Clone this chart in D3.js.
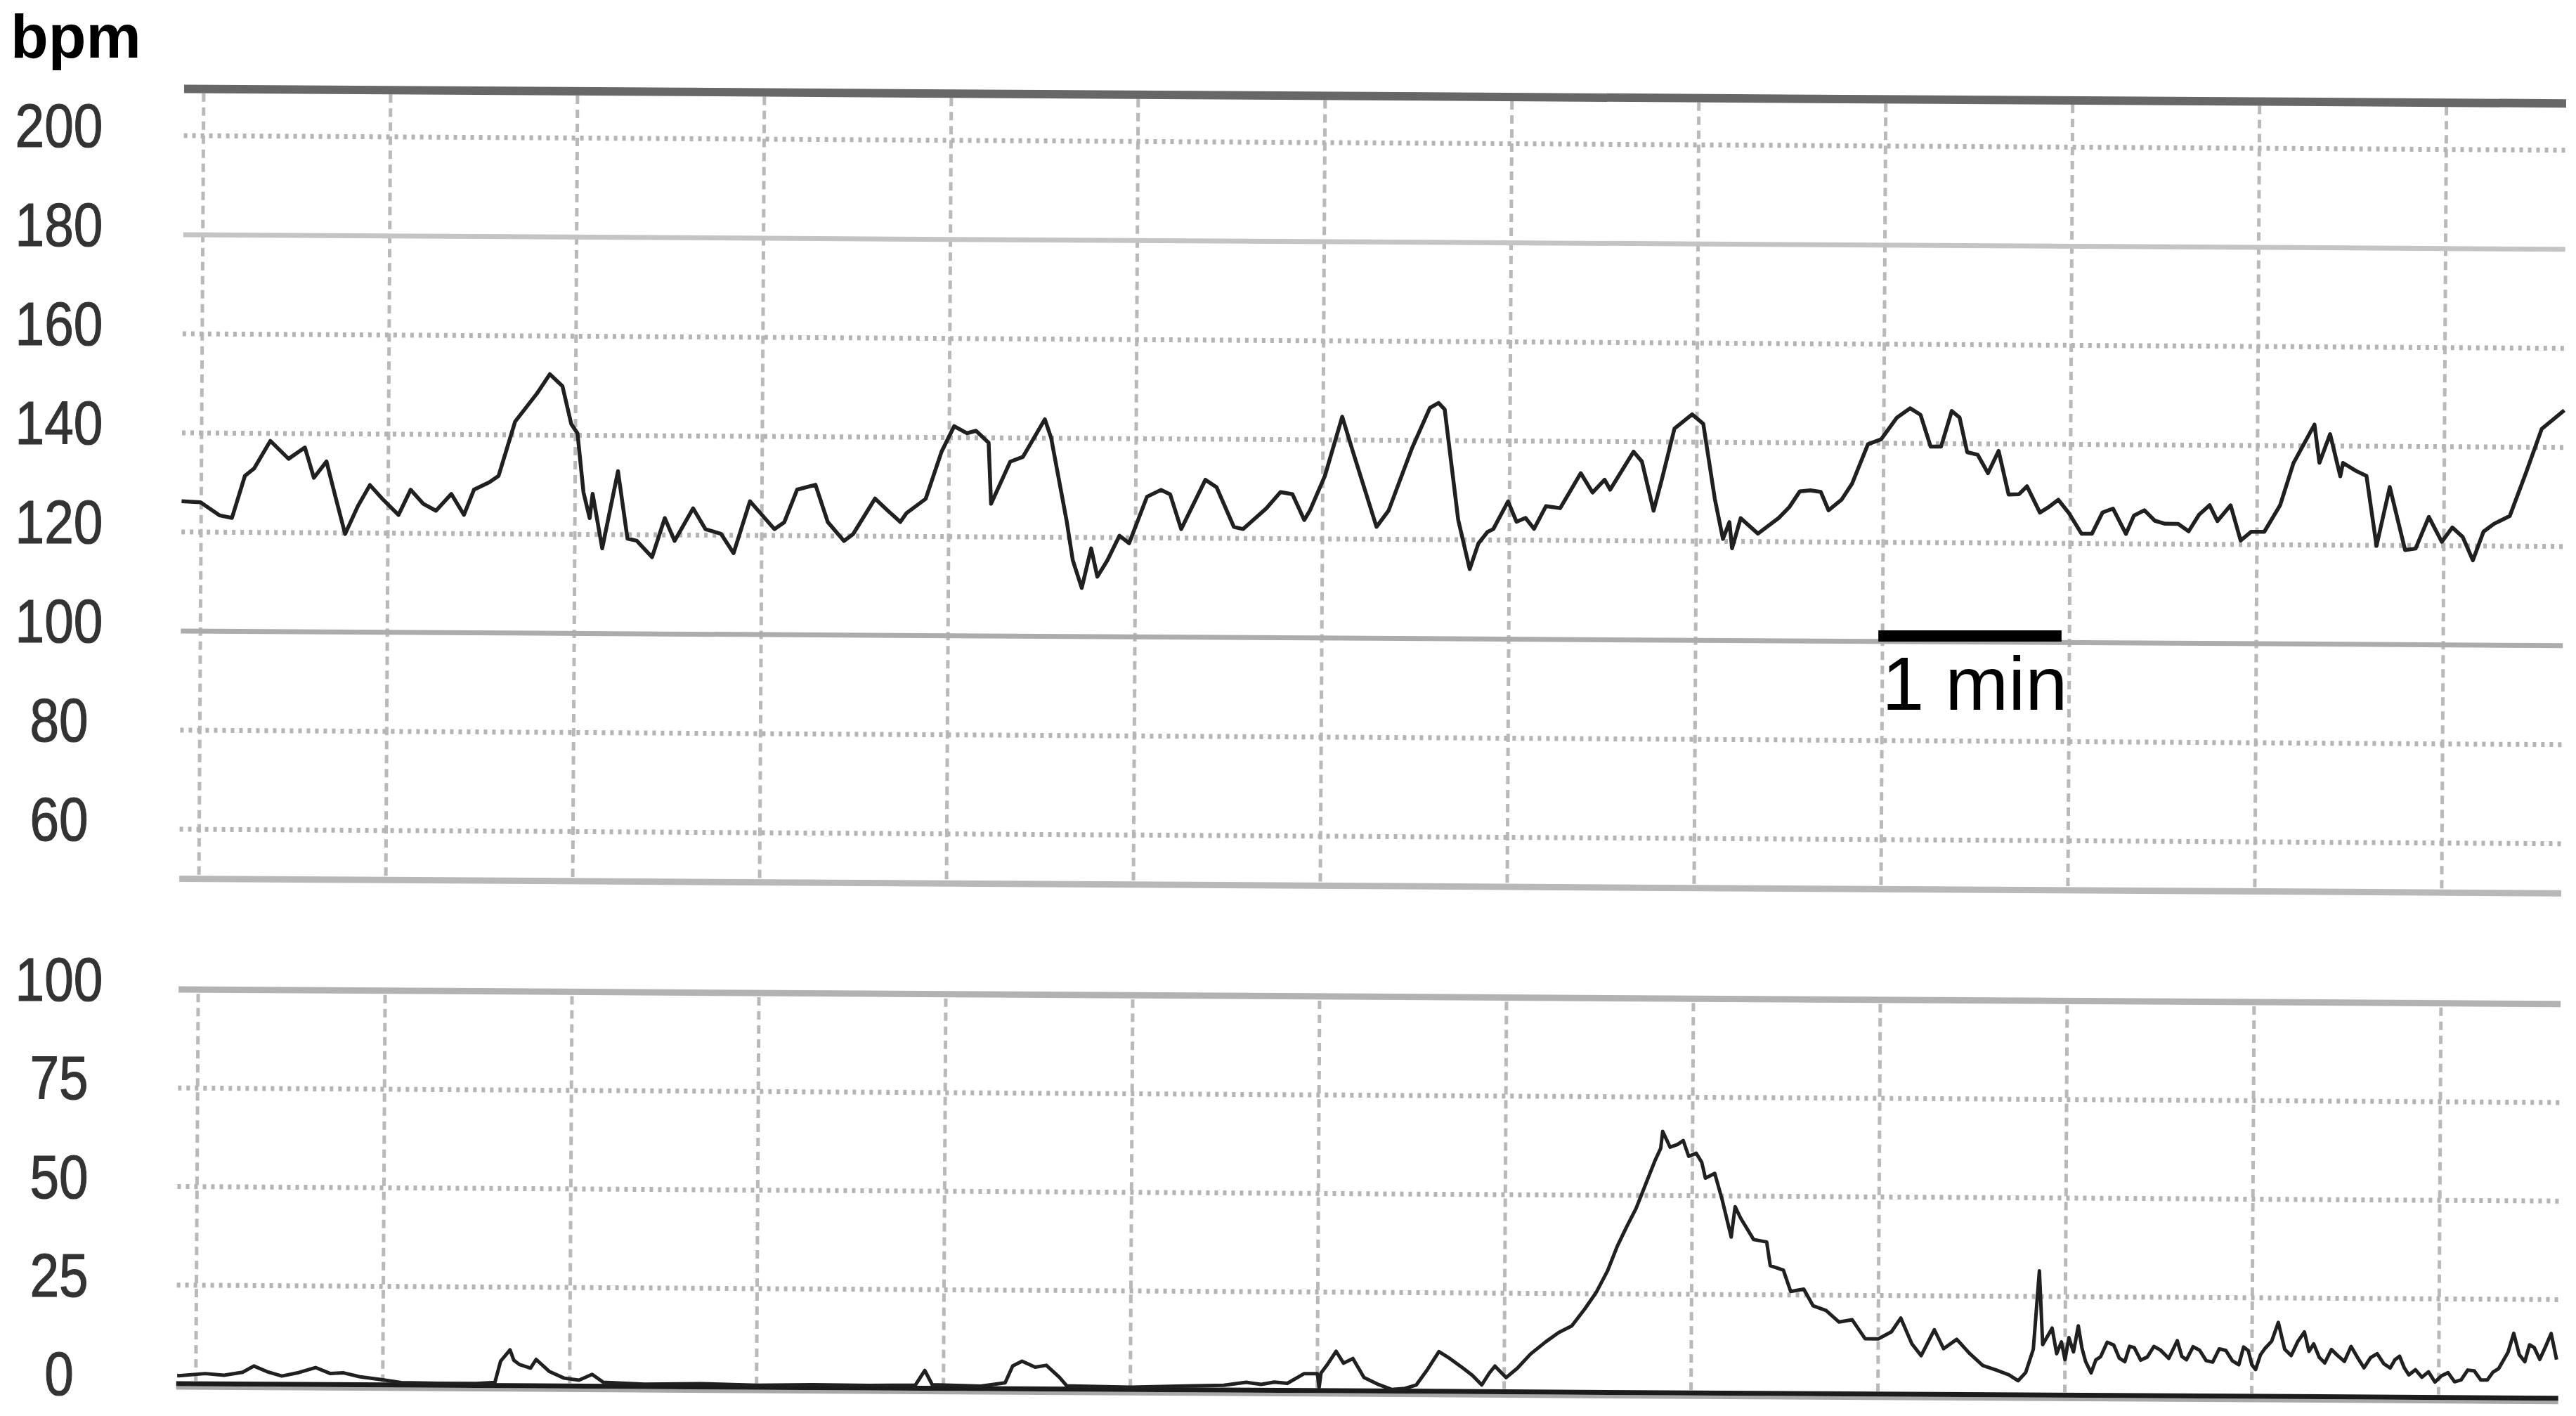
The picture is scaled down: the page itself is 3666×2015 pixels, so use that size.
<!DOCTYPE html>
<html><head><meta charset="utf-8">
<script src="https://cdnjs.cloudflare.com/ajax/libs/d3/7.8.5/d3.min.js"></script>
<style>html,body{margin:0;padding:0;background:#fff;} svg{display:block;}</style>
</head><body>
<svg id="chart" width="3666" height="2015"></svg>
<script>
// ---- Fetal heart rate trace (time in minutes, bpm) ----
const fhrTime = [-0.105,-0.004,0.098,0.165,0.233,0.282,0.368,0.466,0.553,0.602,0.669,0.718,0.771,0.838,0.902,0.970,1.056,1.120,1.188,1.256,1.338,1.406,1.459,1.541,1.590,1.677,1.793,1.861,1.929,1.977,2.011,2.045,2.079,2.094,2.147,2.229,2.282,2.331,2.414,2.481,2.534,2.632,2.699,2.782,2.850,2.936,3.068,3.120,3.188,3.286,3.353,3.440,3.489,3.605,3.673,3.741,3.774,3.876,3.959,4.026,4.094,4.143,4.211,4.226,4.327,4.395,4.511,4.545,4.632,4.665,4.714,4.763,4.797,4.850,4.914,
4.966,5.060,5.135,5.184,5.244,5.372,5.432,5.526,5.575,5.699,5.774,5.838,5.902,5.932,6.011,6.102,6.165,6.289,6.353,6.477,6.571,6.617,6.650,6.726,6.789,6.835,6.883,6.914,6.992,7.038,7.086,7.132,7.195,7.271,7.380,7.444,7.508,7.538,7.662,7.707,7.771,7.816,7.880,7.974,8.034,8.098,8.143,8.177,8.192,8.237,
8.330,8.441,8.497,8.553,8.609,8.665,8.707,8.777,8.832,8.916,8.986,9.070,9.140,9.196,9.251,9.307,9.363,9.405,9.447,9.503,9.559,9.615,9.670,9.726,9.768,9.838,9.880,9.936,9.992,10.061,10.117,10.173,10.229,10.299,10.341,10.397,10.453,10.508,10.578,10.634,10.690,10.746,10.788,10.858,10.913,10.969,11.039,11.123,11.193,11.304,11.332,11.388,11.444,11.458,11.528,11.584,11.640,11.709,11.793,11.849,11.919,11.989,12.045,12.101,12.156,12.212,12.268,12.352,12.436,12.520,12.640];
const fhrBpm = [126.2,126.0,123.4,122.9,131.4,132.9,138.5,134.9,137.2,131.1,134.4,127.3,119.8,125.4,129.7,126.9,123.7,128.8,126.0,124.6,128.0,123.8,128.9,130.4,131.7,142.7,148.4,152.3,149.9,142.3,140.4,128.5,123.3,128.2,117.2,132.8,119.2,118.8,115.5,123.4,118.8,125.4,121.2,120.3,116.4,126.9,121.3,122.7,129.3,130.3,122.8,119.0,120.4,127.6,125.2,122.9,124.7,127.6,137.1,142.3,140.9,141.4,139.0,126.7,135.2,136.2,143.8,140.1,123.1,115.4,109.8,117.8,112.1,115.4,120.4,
118.9,128.3,129.7,128.8,121.8,131.8,130.3,122.3,121.9,126.1,129.4,129.0,123.8,125.7,132.7,144.7,137.1,122.5,125.8,138.5,146.6,147.6,146.3,124.0,114.1,119.3,121.6,122.2,127.8,123.7,124.5,122.3,126.9,126.5,133.6,129.7,132.3,130.3,138.0,136.0,126.1,132.7,142.7,145.6,143.7,128.6,120.5,123.9,118.6,124.7,
121.6,124.8,127.0,130.2,130.4,130.1,126.4,128.6,131.8,139.8,140.8,145.2,147.1,145.8,139.4,139.4,146.6,145.3,138.3,137.8,134.1,138.6,129.8,129.9,131.5,126.2,127.2,128.8,126.2,122.0,122.0,126.3,127.1,122.0,125.7,126.8,124.7,124.1,124.1,122.6,126.0,127.9,124.7,127.9,120.8,122.6,122.6,128.0,136.5,144.3,136.6,142.4,133.9,136.6,135.0,134.0,119.9,131.8,119.1,119.4,125.8,120.8,123.7,121.8,117.1,122.9,124.5,126.1,134.7,143.7,147.5];

// ---- Uterine activity trace (time in minutes, units 0-100) ----
const uaTime = [-0.10,-0.07,0.05,0.15,0.25,0.31,0.38,0.46,0.55,0.64,0.72,0.79,0.88,1.00,1.10,1.30,1.50,1.60,1.63,1.68,1.70,1.73,1.79,1.82,1.89,1.97,2.05,2.12,2.18,2.40,2.70,3.00,3.30,3.60,3.85,3.90,3.94,4.20,4.33,4.37,4.42,4.49,4.55,4.62,4.66,5.00,5.30,5.50,5.62,
5.70,5.77,5.84,5.93,6.00,6.01,6.02,6.05,6.10,6.14,6.19,6.25,6.33,6.40,6.47,6.53,6.59,6.65,6.71,6.78,6.83,6.88,6.92,6.95,7.01,7.07,7.14,7.22,7.29,7.36,7.43,7.49,7.55,7.60,7.65,7.70,7.75,7.80,7.83,7.84,7.88,7.92,7.95,7.98,8.02,8.05,8.07,8.12,8.16,8.21,8.23,8.26,8.33,8.40,8.42,8.49,8.53,8.60,8.65,8.72,8.79,8.86,8.93,9.00,9.07,9.12,9.18,9.23,9.30,9.35,9.42,9.49,9.56,9.63,9.70,9.75,9.79,9.83,9.86,9.88,9.93,
9.955,9.98,10.00,10.02,10.045,10.07,10.09,10.11,10.14,10.165,10.19,10.225,10.26,10.29,10.32,10.345,10.37,10.405,10.44,10.475,10.51,10.555,10.60,10.625,10.65,10.685,10.72,10.755,10.79,10.825,10.86,10.895,10.93,10.955,10.98,11.00,11.02,11.045,11.07,11.105,11.14,11.175,11.21,11.245,11.28,11.305,11.33,11.36,11.39,11.425,11.46,11.495,11.53,11.565,11.60,11.635,11.67,11.705,11.74,11.765,11.79,11.815,11.84,11.875,11.91,11.945,11.98,12.015,12.05,12.085,12.12,12.155,12.19,12.225,12.26,12.29,12.32,12.345,12.37,12.40,12.43,12.46,12.485,12.51,12.54,12.57,12.60,12.63];
const uaValue = [2.0,2.1,2.6,2.2,3.0,4.6,3.2,2.1,3.0,4.3,2.8,3.0,2.0,1.3,0.6,0.5,0.5,0.8,6.2,9.1,6.5,5.4,4.5,6.7,3.7,2.0,1.5,3.0,1.0,0.6,0.8,0.5,0.7,0.6,0.8,4.5,0.9,0.6,1.5,5.8,7.0,5.5,6.0,3.0,0.8,0.6,1.0,1.2,2.0,
1.5,2.1,1.8,4.3,4.3,0.8,4.5,6.4,10.0,7.0,8.2,3.4,1.6,0.4,0.7,1.6,5.6,10.1,8.3,5.9,4.1,1.7,4.7,6.5,3.6,6.0,9.6,12.7,15.1,16.8,21.2,25.4,30.9,37.0,42.0,46.7,52.8,58.9,62.0,66.3,62.3,63.0,64.0,60.0,60.8,58.5,54.5,55.7,49.1,39.6,47.3,44.4,39.0,38.4,32.4,31.3,25.9,26.5,22.3,21.1,18.2,18.8,14.0,14.0,15.8,19.3,12.8,9.8,16.4,11.6,14.0,10.4,7.4,6.3,5.1,3.6,5.7,11.6,31.5,12.8,17.0,
10.5,13.5,9.0,14.6,11.0,17.6,12.0,8.6,5.7,9.0,9.8,13.5,12.8,9.5,8.6,12.5,12.2,9.0,9.8,12.5,11.6,9.5,14.0,10.0,9.2,12.5,11.6,9.0,8.6,12.0,11.6,9.0,8.0,12.5,11.6,8.0,6.8,10.5,12.2,14.0,18.8,12.0,10.4,14.0,16.4,11.5,13.4,10.0,8.6,12.0,10.4,9.0,12.8,10.0,7.4,10.0,11.0,8.5,7.4,9.5,10.4,7.5,5.7,7.0,5.1,6.5,3.9,5.5,6.3,4.0,4.5,7.0,6.8,4.5,4.5,6.5,7.4,9.5,11.6,16.4,11.0,9.2,13.5,12.8,9.8,13.0,16.4,9.8];

// ---- Axes / grid values ----
const fhrTicks = [200,180,160,140,120,100,80,60];
const uaTicks = [100,75,50,25,0];
const fhrSolidLines = [180,100];
const fhrDottedLines = [200,160,140,120,80,60];
const uaDottedLines = [75,50,25];
const minuteLines = [0,1,2,3,4,5,6,7,8,9,10,11,12];
const scaleBarMinutes = [8.96, 9.94];
const scaleBarLabel = "1 min";
const fhrUnit = "bpm";

const svg = d3.select("#chart");
const x = d3.scaleLinear().domain([-0.105, 12.64]).range([262, 3652]);
const yF = d3.scaleLinear().domain([50, 210]).range([1250.5, 122.5]);
const yU = d3.scaleLinear().domain([0, 100]).range([1969, 1408]);
const x0 = x.range()[0], x1 = x.range()[1];

// paper (slightly skewed scan)
const paper = svg.append("g").attr("transform", "rotate(0.35 262 128)");

// vertical minute lines
const vDash = "12 8";
paper.append("g").selectAll("line.vf").data(minuteLines).join("line")
  .attr("x1", d => x(d)).attr("x2", d => x(d))
  .attr("y1", yF(210) + 10).attr("y2", yF(50) - 5)
  .attr("stroke", "#b9b9b9").attr("stroke-width", 5).attr("stroke-dasharray", vDash);
paper.append("g").selectAll("line.vu").data(minuteLines).join("line")
  .attr("x1", d => x(d)).attr("x2", d => x(d))
  .attr("y1", yU(100) + 6).attr("y2", yU(0) - 4)
  .attr("stroke", "#b9b9b9").attr("stroke-width", 5).attr("stroke-dasharray", vDash);

// horizontal dotted lines
const hDash = "5 7";
paper.append("g").selectAll("line").data(fhrDottedLines).join("line")
  .attr("x1", x0).attr("x2", x1).attr("y1", d => yF(d)).attr("y2", d => yF(d))
  .attr("stroke", "#b4b4b4").attr("stroke-width", 7).attr("stroke-dasharray", hDash);
paper.append("g").selectAll("line").data(uaDottedLines).join("line")
  .attr("x1", x0).attr("x2", x1).attr("y1", d => yU(d)).attr("y2", d => yU(d))
  .attr("stroke", "#b4b4b4").attr("stroke-width", 7).attr("stroke-dasharray", hDash);

// solid lines
paper.append("g").selectAll("line").data(fhrSolidLines).join("line")
  .attr("x1", x0).attr("x2", x1).attr("y1", d => yF(d)).attr("y2", d => yF(d))
  .attr("stroke", d => d === 100 ? "#acacac" : "#c4c4c4").attr("stroke-width", 7);
// borders
paper.append("line").attr("x1", x0).attr("x2", x1).attr("y1", yF(210) + 4).attr("y2", yF(210) + 4)
  .attr("stroke", "#676767").attr("stroke-width", 12);
paper.append("line").attr("x1", x0).attr("x2", x1).attr("y1", yF(50)).attr("y2", yF(50))
  .attr("stroke", "#b8b8b8").attr("stroke-width", 9);
paper.append("line").attr("x1", x0).attr("x2", x1).attr("y1", yU(100)).attr("y2", yU(100))
  .attr("stroke", "#b2b2b2").attr("stroke-width", 9);
paper.append("line").attr("x1", x0).attr("x2", x1).attr("y1", yU(0) + 6).attr("y2", yU(0) + 6)
  .attr("stroke", "#a8a8a8").attr("stroke-width", 5);
paper.append("line").attr("x1", x0).attr("x2", x1).attr("y1", yU(0)).attr("y2", yU(0))
  .attr("stroke", "#1c1c1c").attr("stroke-width", 7);

// traces
const fhrLine = d3.line().x(d => x(d[0])).y(d => yF(d[1]));
paper.append("path").datum(d3.zip(fhrTime, fhrBpm)).attr("d", fhrLine)
  .attr("fill", "none").attr("stroke", "#202020").attr("stroke-width", 5.5).attr("stroke-linejoin", "round");
const uaLine = d3.line().x(d => x(d[0])).y(d => yU(d[1]));
paper.append("path").datum(d3.zip(uaTime, uaValue)).attr("d", uaLine)
  .attr("fill", "none").attr("stroke", "#202020").attr("stroke-width", 5).attr("stroke-linejoin", "round");

// tick labels
function labels(ticks, scale) {
  svg.append("g").selectAll("text").data(ticks).join("text")
    .attr("transform", d => `translate(84,${scale(d) + 16}) scale(0.86,1)`)
    .attr("text-anchor", "middle")
    .attr("font-family", "Liberation Sans, Arial, sans-serif")
    .attr("font-size", 87).attr("fill", "#333")
    .attr("stroke", "#333").attr("stroke-width", 1.2)
    .text(d => d);
}
labels(fhrTicks, yF);
labels(uaTicks, yU);

// unit label
svg.append("text").attr("x", 15).attr("y", 82)
  .attr("font-family", "Liberation Sans, Arial, sans-serif").attr("font-weight", "bold")
  .attr("font-size", 88).attr("fill", "#000").text(fhrUnit);

// 1 min scale bar
svg.append("rect").attr("x", x(scaleBarMinutes[0])).attr("y", 897)
  .attr("width", x(scaleBarMinutes[1]) - x(scaleBarMinutes[0])).attr("height", 16).attr("fill", "#000");
svg.append("text").attr("x", x(scaleBarMinutes[0]) + 5).attr("y", 1010)
  .attr("font-family", "Liberation Sans, Arial, sans-serif")
  .attr("font-size", 108).attr("fill", "#000").text(scaleBarLabel);
</script>
</body></html>
